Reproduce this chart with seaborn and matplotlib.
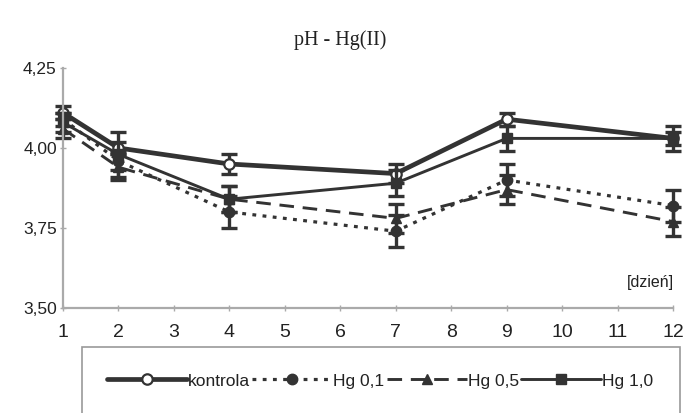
import matplotlib
matplotlib.use("Agg")
import matplotlib.pyplot as plt
import seaborn as sns
import pandas as pd
from matplotlib.patches import Rectangle

days = [1, 2, 4, 7, 9, 12]
kontrola = [4.11, 4.00, 3.95, 3.92, 4.09, 4.03]
kontrola_err = [0.02, 0.02, 0.03, 0.03, 0.02, 0.02]
hg01 = [4.09, 3.96, 3.80, 3.74, 3.90, 3.82]
hg01_err = [0.02, 0.03, 0.05, 0.05, 0.05, 0.05]
hg05 = [4.06, 3.94, 3.84, 3.78, 3.87, 3.77]
hg05_err = [0.03, 0.04, 0.04, 0.045, 0.045, 0.045]
hg10 = [4.08, 3.98, 3.84, 3.89, 4.03, 4.03]
hg10_err = [0.03, 0.07, 0.04, 0.04, 0.04, 0.04]
series_names = ["kontrola", "Hg 0,1", "Hg 0,5", "Hg 1,0"]
xticks = list(range(1, 13))
yticks = [3.50, 3.75, 4.00, 4.25]
ytick_labels = ["3,50", "3,75", "4,00", "4,25"]
title = "pH - Hg(II)"
unit_label = "[dzień]"

sns.set_theme(style="white")
plt.rcParams["font.family"] = ["Liberation Sans", "DejaVu Sans"]

fig = plt.figure(figsize=(6.98, 4.13), dpi=100)
ax = fig.add_axes([63/698, 1-308/413, (673-63)/698, (308-68)/413])

col = "#333333"
txtcol = "#222222"
styles = [
    dict(ls="-", lw=3.4, marker="o", mfc="white", ms=7.5, mew=1.6),
    dict(ls=(0, (1.2, 2.0)), lw=2.3, marker="o", mfc=col, ms=7.5, mew=1),
    dict(ls=(0, (5, 3)), lw=2.1, marker="^", mfc=col, ms=7.5, mew=1),
    dict(ls="-", lw=2.1, marker="s", mfc=col, ms=7.5, mew=1),
]
vals = [kontrola, hg01, hg05, hg10]
errs = [kontrola_err, hg01_err, hg05_err, hg10_err]

handles = []
for name, v, e, st in zip(series_names, vals, errs, styles):
    df = pd.DataFrame({"day": days, "pH": v})
    sns.lineplot(data=df, x="day", y="pH", ax=ax, color=col, linestyle=st["ls"],
                 linewidth=st["lw"], clip_on=False, legend=False)
    ax.errorbar(days, v, yerr=e, fmt="none", ecolor=col, elinewidth=2.4,
                capsize=6, capthick=2.4, clip_on=False)
    ax.plot(days, v, linestyle="none", marker=st["marker"], ms=st["ms"],
            mfc=st["mfc"], mec=col, mew=st["mew"], clip_on=False)
    h, = ax.plot([], [], color=col, linestyle=st["ls"], linewidth=st["lw"],
                 marker=st["marker"], ms=st["ms"], mfc=st["mfc"], mec=col, mew=st["mew"])
    handles.append(h)

ax.set_xlim(1, 12)
ax.set_ylim(3.5, 4.25)
ax.set_xticks(xticks)
ax.set_xticklabels([str(t) for t in xticks], fontsize=14, color=txtcol)
ax.set_yticks(yticks)
ax.set_yticklabels(ytick_labels, fontsize=12.5, color=txtcol)
ax.set_xlabel("")
ax.set_ylabel("")
for s in ["top", "right"]:
    ax.spines[s].set_visible(False)
for s in ["left", "bottom"]:
    ax.spines[s].set_color("#aaaaaa")
    ax.spines[s].set_linewidth(1.6)
ax.tick_params(axis="both", which="major", direction="inout", length=5,
               width=1, color="#aaaaaa", left=True, bottom=True)
ax.tick_params(axis="x", pad=9)
ax.tick_params(axis="y", pad=2)

ax.text(12.02, 3.555, unit_label, ha="right", va="bottom", fontsize=11.5, color=txtcol)
fig.text(340/698, 1-40/413, title, ha="center", va="center", fontsize=14.5,
         family=["Liberation Serif", "DejaVu Serif"], color=txtcol)

fig.patches.append(Rectangle((82/698, -0.05), (680-82)/698, 0.05+1-347/413,
                             transform=fig.transFigure, fill=False,
                             edgecolor="#999999", linewidth=1.2))
leg = fig.legend(handles, series_names, loc="center", ncol=4,
                 bbox_to_anchor=(380/698, 1-381/413), frameon=False,
                 fontsize=12.5, handlelength=4.6, handletextpad=0.05,
                 columnspacing=0.15)
for t in leg.get_texts():
    t.set_color(txtcol)

fig.savefig("out.png", dpi=100)
